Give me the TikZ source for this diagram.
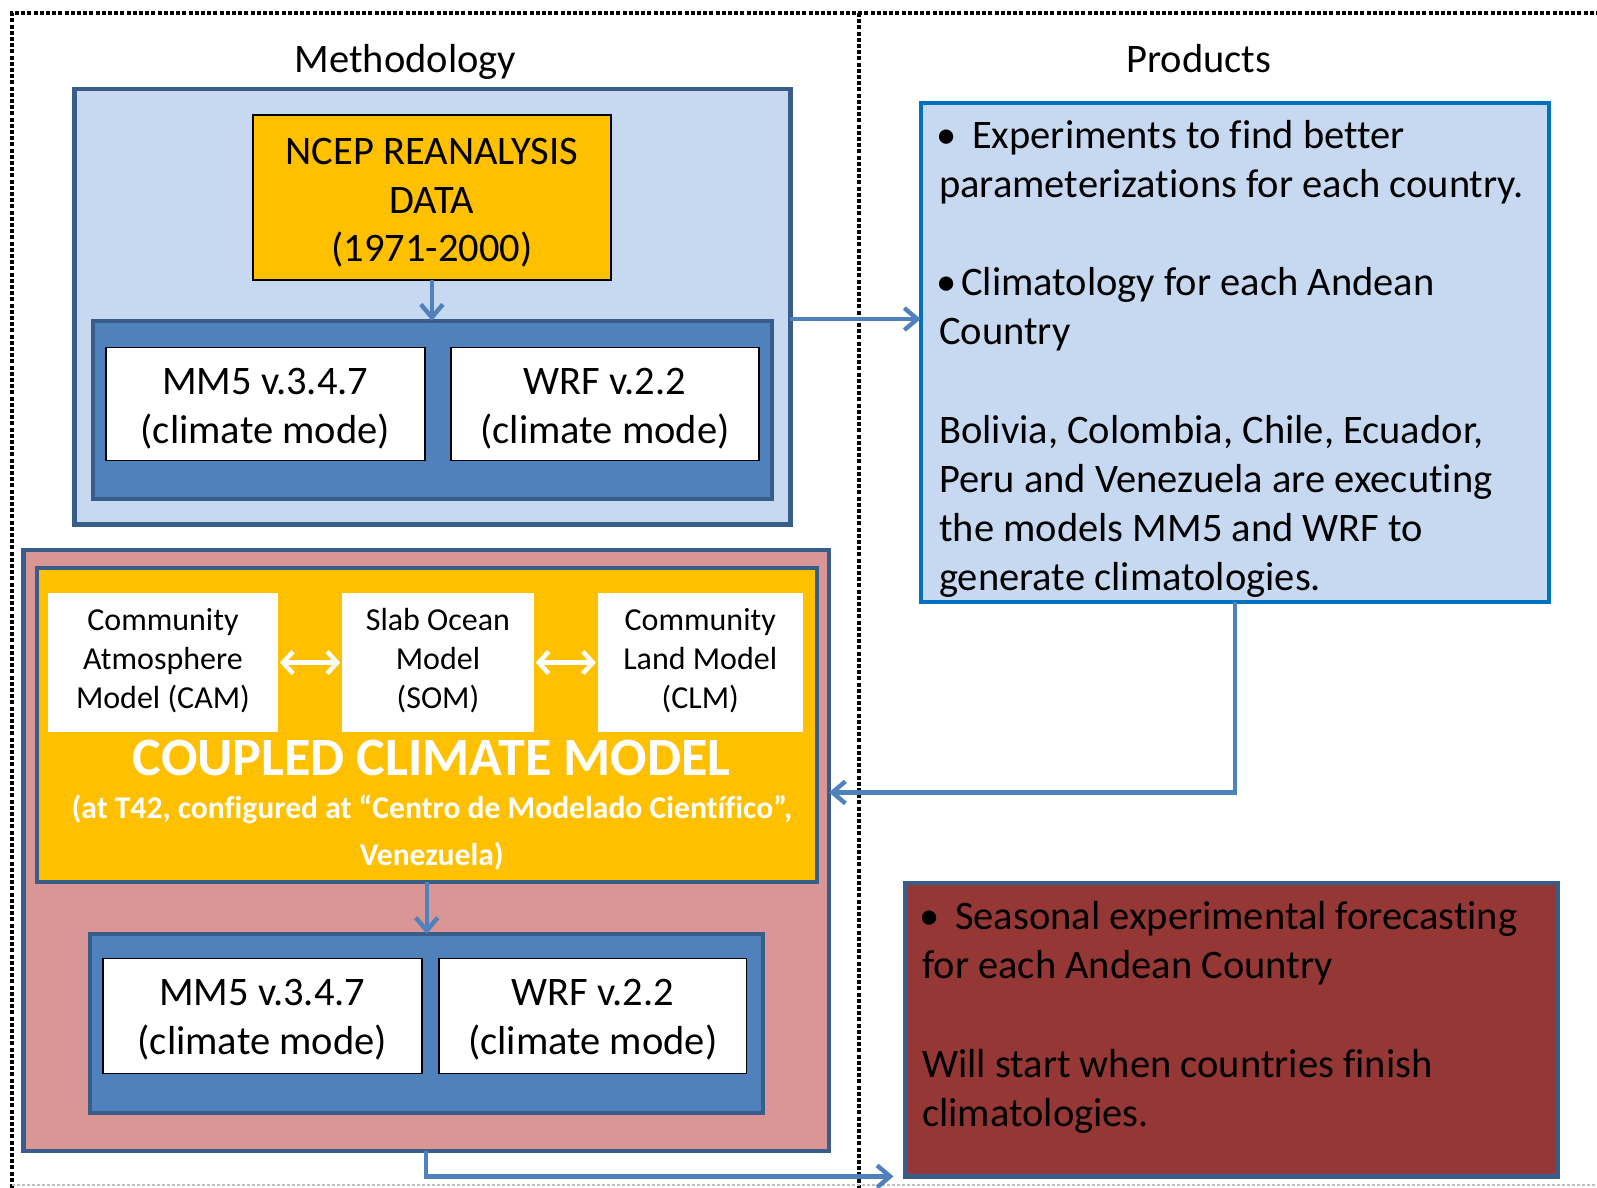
\documentclass[tikz,border=0pt]{standalone}
\usepackage{fontspec}
\setmainfont{Carlito}[Ligatures={NoCommon}]
\usetikzlibrary{arrows.meta}
\definecolor{lblue}{HTML}{C6D9F1}
\definecolor{dblue}{HTML}{4F81BD}
\definecolor{bord}{HTML}{385D8A}
\definecolor{pbord}{HTML}{0070C0}
\definecolor{yel}{HTML}{FFC000}
\definecolor{pink}{HTML}{D99694}
\definecolor{dred}{HTML}{953735}
\tikzset{
  box/.style={draw=bord, line width=4.2pt, inner sep=0pt, outer sep=0pt},
  wbox/.style={draw=black, line width=1.6pt, fill=white, inner sep=0pt, outer sep=0pt},
  conn/.style={draw=dblue, line width=4.4pt, -{Straight Barb[length=13pt,width=22pt]}},
  wdarrow/.style={draw=white, line width=4.5pt, {Straight Barb[length=10pt,width=22pt]}-{Straight Barb[length=10pt,width=22pt]}},
  frame/.style={draw=black, line width=4.2pt, dash pattern=on 4pt off 2.2pt},
  big/.style={anchor=base, inner sep=0pt, font=\fontsize{40.5}{49}\selectfont},
  bigl/.style={anchor=base west, inner sep=0pt, font=\fontsize{40.5}{49}\selectfont},
  small/.style={anchor=base, inner sep=0pt, font=\fontsize{32}{39}\selectfont},
}
\begin{document}
\begin{tikzpicture}[x=1pt, y=-1pt]
\useasboundingbox (0,0) rectangle (1597,1187);
\clip (0,0) rectangle (1597,1187);
\fill[white] (0,0) rectangle (1597,1187);

% frame
\draw[frame] (1600,13) -- (12,13) -- (12,1190);
\draw[frame] (858.6,13) -- (858.6,1190);
\draw[gray!50, line width=1.2pt, dash pattern=on 3pt off 2pt] (12,1185) -- (1600,1185);

% headings
\node[big] (hmeth) at (405.4,72) {Methodology};
\node[big] (hprod) at (1198.8,72) {Products};

% methodology top
\node[box, fill=lblue, minimum width=716pt, minimum height=435.9pt] (lb) at (432.4,306.55) {};
\node[draw=black, line width=1.8pt, fill=yel, inner sep=0pt, outer sep=0pt, minimum width=358.5pt, minimum height=165pt] (ncep) at (431.85,197.6) {};
\node[big] (n1) at (431.85,164) {NCEP REANALYSIS};
\node[big] (n2) at (431.85,213) {DATA};
\node[big] (n3) at (431.85,261) {(1971-2000)};
\node[box, fill=dblue, minimum width=679.3pt, minimum height=178.2pt] (db1) at (432.35,409.9) {};
\node[wbox, minimum width=318.8pt, minimum height=113.1pt] (mm5a) at (265.3,403.85) {};
\node[wbox, minimum width=307.6pt, minimum height=113.1pt] (wrfa) at (605,403.85) {};
\node[big] (mm5a1) at (265.3,394) {MM5 v.3.4.7};
\node[big] (mm5a2) at (265.3,443) {(climate mode)};
\node[big] (wrfa1) at (605,394) {WRF v.2.2};
\node[big] (wrfa2) at (605,443) {(climate mode)};
\draw[conn] (ncep.south) -- (ncep.south |- db1.north);

% products
\node[draw=pbord, line width=4.2pt, fill=lblue, inner sep=0pt, outer sep=0pt, minimum width=628.4pt, minimum height=499pt] (prod) at (1234.9,352.4) {};
\node[bigl] (p0b) at (936,148.5) {•};
\node[bigl] (p0) at (972,148.5) {Experiments to find better};
\node[bigl] (p1) at (939,197.6) {parameterizations for each country.};
\node[bigl] (p3b) at (936,295.8) {•};
\node[bigl] (p3) at (961,295.8) {Climatology for each Andean};
\node[bigl] (p4) at (939,344.9) {Country};
\node[bigl] (p6) at (939,443.1) {Bolivia, Colombia, Chile, Ecuador,};
\node[bigl] (p7) at (939,492.2) {Peru and Venezuela are executing};
\node[bigl] (p8) at (939,541.3) {the models MM5 and WRF to};
\node[bigl] (p9) at (939,590.4) {generate climatologies.};

\draw[conn] (lb.east |- 0,319) -- (prod.west |- 0,319);

% coupled model
\node[box, fill=pink, minimum width=805.6pt, minimum height=600.9pt] (pink) at (426.2,850.45) {};
\node[box, fill=yel, minimum width=780.1pt, minimum height=313.7pt] (yelb) at (426.75,725.15) {};
\node[fill=white, inner sep=0pt, outer sep=0pt, minimum width=230.1pt, minimum height=139.5pt] (cam) at (162.95,662.55) {};
\node[fill=white, inner sep=0pt, outer sep=0pt, minimum width=191.5pt, minimum height=139.5pt] (som) at (437.95,662.55) {};
\node[fill=white, inner sep=0pt, outer sep=0pt, minimum width=204.7pt, minimum height=139.5pt] (clm) at (700.25,662.55) {};
\node[small] (cam1) at (162.95,630.8) {Community};
\node[small] (cam2) at (162.95,669.5) {Atmosphere};
\node[small] (cam3) at (162.95,708.2) {Model (CAM)};
\node[small] (som1) at (437.95,630.8) {Slab Ocean};
\node[small] (som2) at (437.95,669.5) {Model};
\node[small] (som3) at (437.95,708.2) {(SOM)};
\node[small] (clm1) at (700.25,630.8) {Community};
\node[small] (clm2) at (700.25,669.5) {Land Model};
\node[small] (clm3) at (700.25,708.2) {(CLM)};
\draw[wdarrow, shorten <=2pt, shorten >=2pt] (cam.east) -- (som.west);
\draw[wdarrow, shorten <=2pt, shorten >=2pt] (som.east) -- (clm.west);
\node[anchor=base, inner sep=0pt, text=white, font=\fontsize{54}{60}\selectfont\bfseries] (cc) at (431.8,775) {COUPLED CLIMATE MODEL};
\node[anchor=base, inner sep=0pt, text=white, font=\fontsize{31.6}{46}\selectfont\bfseries] (cc2) at (431.8,818) {(at T42, configured at “Centro de Modelado Científico”,};
\node[anchor=base, inner sep=0pt, text=white, font=\fontsize{31.6}{46}\selectfont\bfseries] (cc3) at (431.8,865) {Venezuela)};

\node[box, fill=dblue, minimum width=673.3pt, minimum height=179.2pt] (db2) at (426.25,1023.6) {};
\node[wbox, minimum width=318.8pt, minimum height=115.1pt] (mm5b) at (262.3,1015.95) {};
\node[wbox, minimum width=307.6pt, minimum height=115.1pt] (wrfb) at (592.8,1015.95) {};
\node[big] (mm5b1) at (262.3,1005) {MM5 v.3.4.7};
\node[big] (mm5b2) at (262.3,1054) {(climate mode)};
\node[big] (wrfb1) at (592.8,1005) {WRF v.2.2};
\node[big] (wrfb2) at (592.8,1054) {(climate mode)};
\draw[conn] (yelb.south) -- (yelb.south |- db2.north);

% seasonal forecasting
\node[box, fill=dred, minimum width=652.8pt, minimum height=293.4pt] (red) at (1231.9,1029.7) {};
\node[bigl] (r0b) at (919,929.7) {•};
\node[bigl] (r0) at (955,929.7) {Seasonal experimental forecasting};
\node[bigl] (r1) at (922,978.8) {for each Andean Country};
\node[bigl] (r3) at (922,1077) {Will start when countries finish};
\node[bigl] (r4) at (922,1126.1) {climatologies.};

% connectors
\draw[conn] (prod.south) -- (prod.south |- 0,792.4) -- (pink.east |- 0,792.4);
\draw[conn] (pink.south) -- (pink.south |- red.south) -- ([xshift=-12pt]red.south west);
\end{tikzpicture}
\end{document}
